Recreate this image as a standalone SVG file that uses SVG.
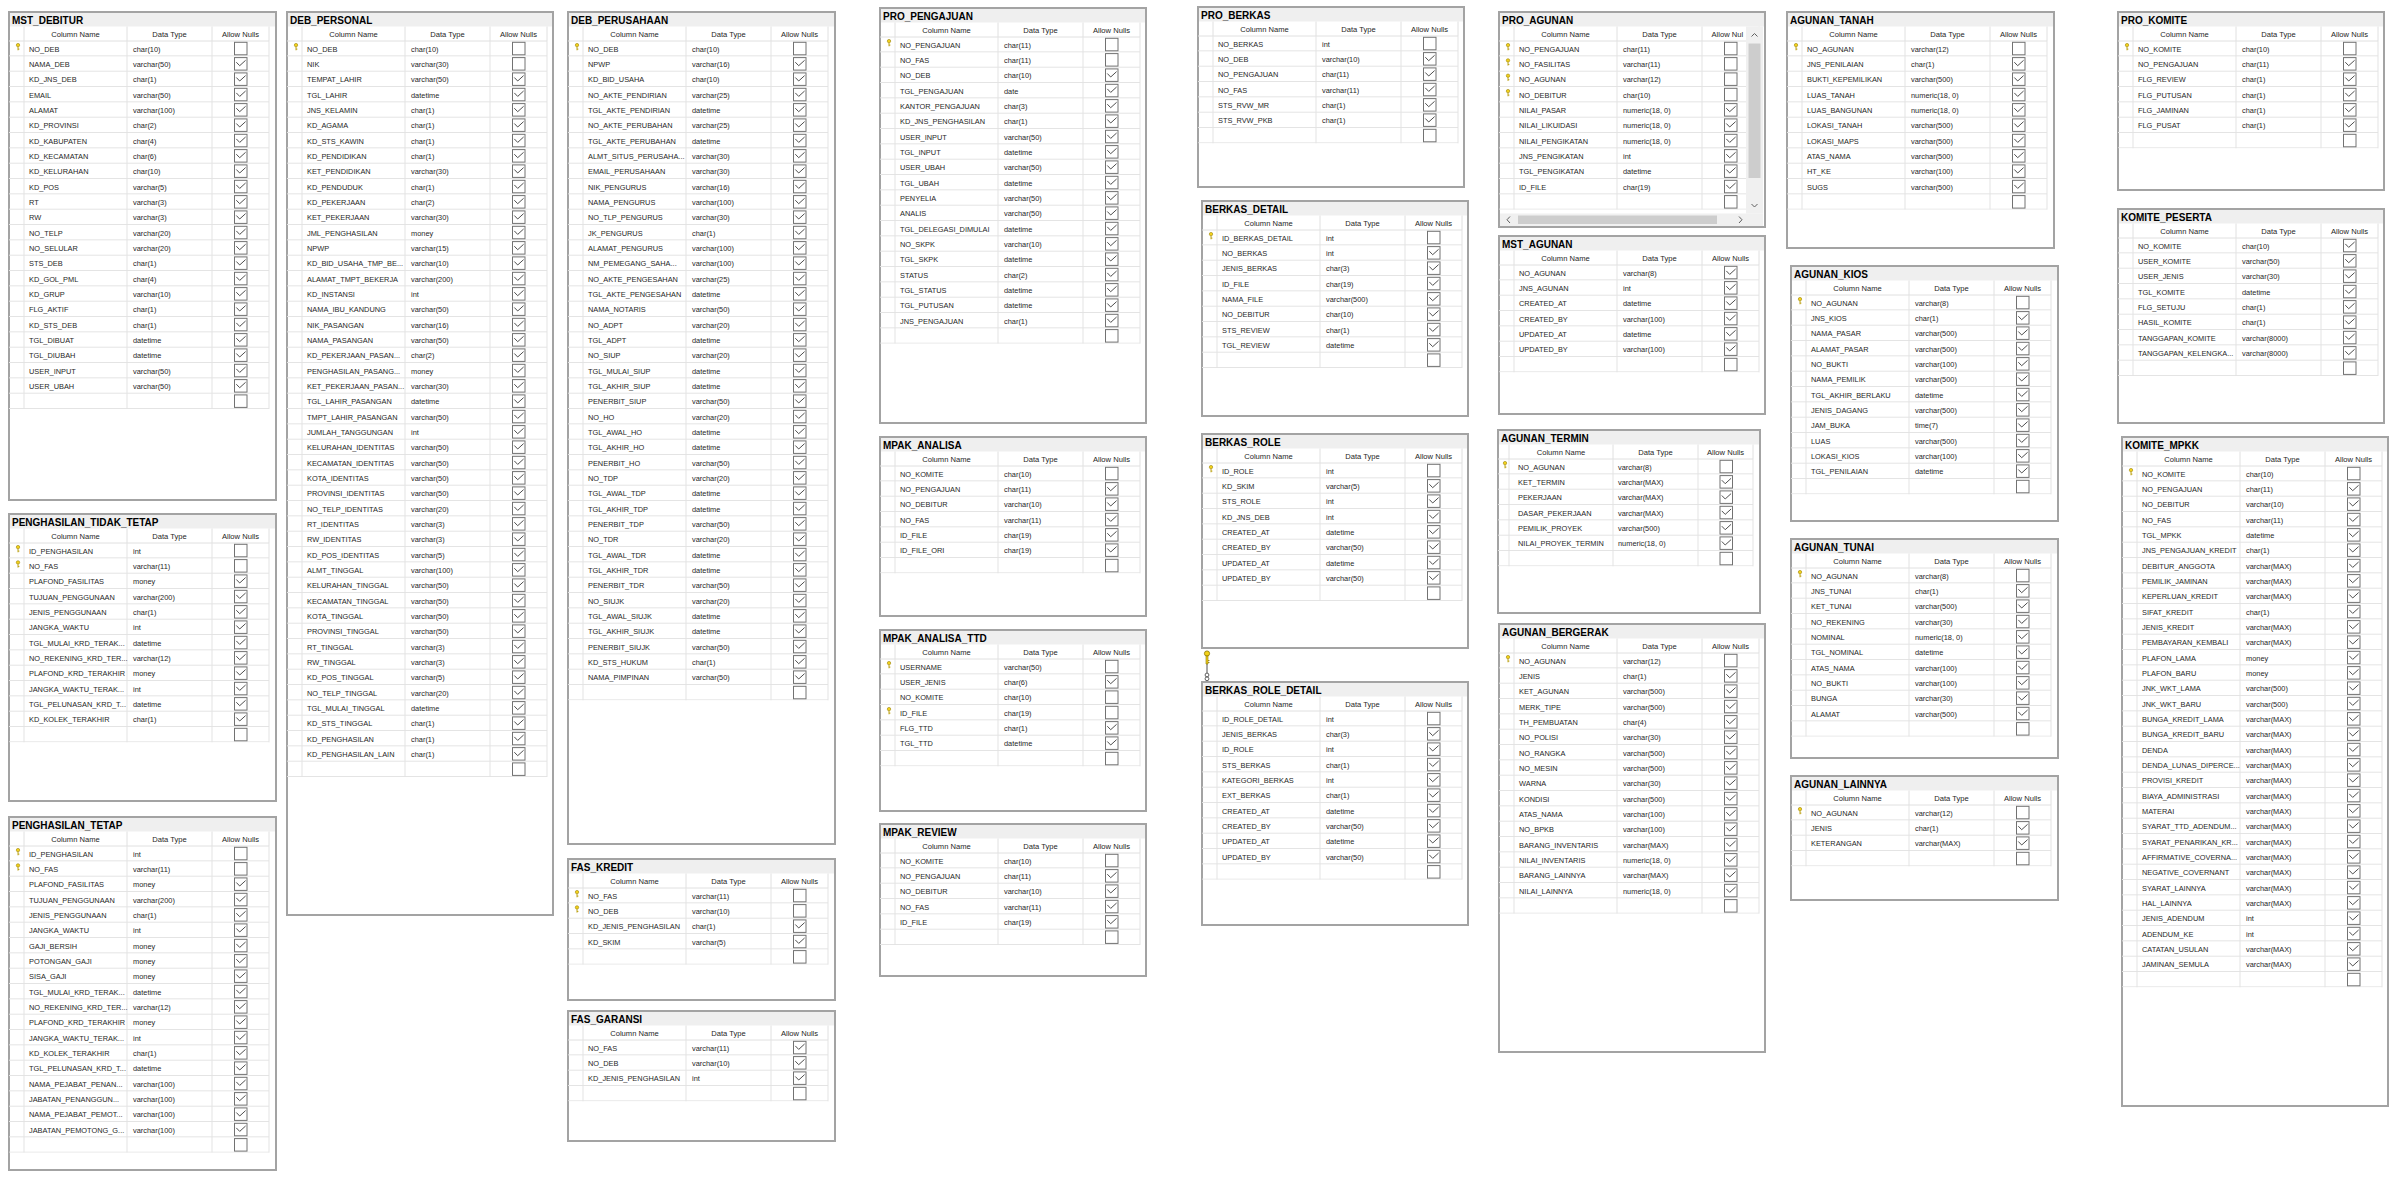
<svg xmlns="http://www.w3.org/2000/svg" xmlns:xlink="http://www.w3.org/1999/xlink" width="2400" height="1182" viewBox="0 0 2400 1182">
<style>
.box{fill:#fff;stroke:#a3a3a3;stroke-width:2}
.bar{fill:#efefef}
.ti{font-family:"Liberation Sans",Arial,sans-serif;font-weight:bold;font-size:10px;fill:#000}
.h{font-family:"Liberation Sans",Arial,sans-serif;font-size:7.6px;fill:#262626;text-anchor:middle}
.hl{font-family:"Liberation Sans",Arial,sans-serif;font-size:7.6px;fill:#262626}
.t{font-family:"Liberation Sans",Arial,sans-serif;font-size:7.4px;fill:#1f1f1f}
.gl{stroke:#e0e0e0;stroke-width:1;fill:none}
.sb{fill:#f0f0f0}
.th{fill:#cdcdcd}
.ar{fill:none;stroke:#606060;stroke-width:1}
</style>
<defs>
  <!-- header row (column captions + separators), local to a table -->
  <g id="hdr0">
    <path class="gl" d="M15 14.5V29M118 14.5V29M203 14.5V29M260 14.5V29M0 29H260"/>
    <text class="h" x="66.5" y="25">Column Name</text>
    <text class="h" x="160.5" y="25">Data Type</text>
  </g>
  <g id="hdr"><use href="#hdr0"/><text class="h" x="231.5" y="25">Allow Nulls</text></g>
  <g id="hdr2">
    <path class="gl" d="M11 14.5V29M115 14.5V29M200 14.5V29M255 14.5V29M0 29H255"/>
    <text class="h" x="63" y="25">Column Name</text>
    <text class="h" x="157.5" y="25">Data Type</text>
    <text class="h" x="227.5" y="25">Allow Nulls</text>
  </g>
  <!-- row grid -->
  <pattern id="gp" patternUnits="userSpaceOnUse" x="0" y="29" width="300" height="15.3333">
    <path d="M15 0V15.3333M118 0V15.3333M203 0V15.3333M260 0V15.3333M0 14.83H260" stroke="#e3e3e3" stroke-width="1" fill="none"/>
  </pattern>
  <pattern id="gp2" patternUnits="userSpaceOnUse" x="0" y="29" width="300" height="15.3333">
    <path d="M11 0V15.3333M115 0V15.3333M200 0V15.3333M255 0V15.3333M0 14.83H255" stroke="#e3e3e3" stroke-width="1" fill="none"/>
  </pattern>
  <!-- Allow Nulls check boxes, positioned on the row baseline -->
  <g id="u"><rect x="225.5" y="-9.4" width="12.5" height="12.5" fill="#fff" stroke="#727272" stroke-width="1"/></g>
  <g id="c"><use href="#u"/><path d="M227.3 -4.8L230.7 -1.3L236.6 -6.7" fill="none" stroke="#505050" stroke-width="1"/></g>
  <!-- primary key marker -->
  <g id="k"><circle cx="9" cy="-6.6" r="1.7" fill="#f3d11a" stroke="#9c8300" stroke-width=".6"/><path d="M9 -4.9V-1.4M9 -2.6H10.4" stroke="#b59a00" stroke-width=".9"/></g>
</defs>
<rect width="2400" height="1182" fill="#fff"/>

<!-- MST_DEBITUR -->
<g id="t-mst-debitur" transform="translate(9,12)">
<rect class="box" width="267" height="488"/><rect class="bar" x="1" y="1" width="265" height="13.5"/>
<text class="ti" x="3" y="12">MST_DEBITUR</text><use href="#hdr"/>
<rect x="0" y="29" width="261" height="368" fill="url(#gp)"/>
<text class="t" y="39.7"><tspan x="20">NO_DEB</tspan><tspan x="124">char(10)</tspan></text><use href="#u" y="39.7"/><use href="#k" y="39.7"/>
<text class="t" y="55"><tspan x="20">NAMA_DEB</tspan><tspan x="124">varchar(50)</tspan></text><use href="#c" y="55"/>
<text class="t" y="70.3"><tspan x="20">KD_JNS_DEB</tspan><tspan x="124">char(1)</tspan></text><use href="#c" y="70.3"/>
<text class="t" y="85.7"><tspan x="20">EMAIL</tspan><tspan x="124">varchar(50)</tspan></text><use href="#c" y="85.7"/>
<text class="t" y="101"><tspan x="20">ALAMAT</tspan><tspan x="124">varchar(100)</tspan></text><use href="#c" y="101"/>
<text class="t" y="116.3"><tspan x="20">KD_PROVINSI</tspan><tspan x="124">char(2)</tspan></text><use href="#c" y="116.3"/>
<text class="t" y="131.7"><tspan x="20">KD_KABUPATEN</tspan><tspan x="124">char(4)</tspan></text><use href="#c" y="131.7"/>
<text class="t" y="147"><tspan x="20">KD_KECAMATAN</tspan><tspan x="124">char(6)</tspan></text><use href="#c" y="147"/>
<text class="t" y="162.3"><tspan x="20">KD_KELURAHAN</tspan><tspan x="124">char(10)</tspan></text><use href="#c" y="162.3"/>
<text class="t" y="177.7"><tspan x="20">KD_POS</tspan><tspan x="124">varchar(5)</tspan></text><use href="#c" y="177.7"/>
<text class="t" y="193"><tspan x="20">RT</tspan><tspan x="124">varchar(3)</tspan></text><use href="#c" y="193"/>
<text class="t" y="208.3"><tspan x="20">RW</tspan><tspan x="124">varchar(3)</tspan></text><use href="#c" y="208.3"/>
<text class="t" y="223.7"><tspan x="20">NO_TELP</tspan><tspan x="124">varchar(20)</tspan></text><use href="#c" y="223.7"/>
<text class="t" y="239"><tspan x="20">NO_SELULAR</tspan><tspan x="124">varchar(20)</tspan></text><use href="#c" y="239"/>
<text class="t" y="254.3"><tspan x="20">STS_DEB</tspan><tspan x="124">char(1)</tspan></text><use href="#c" y="254.3"/>
<text class="t" y="269.7"><tspan x="20">KD_GOL_PML</tspan><tspan x="124">char(4)</tspan></text><use href="#c" y="269.7"/>
<text class="t" y="285"><tspan x="20">KD_GRUP</tspan><tspan x="124">varchar(10)</tspan></text><use href="#c" y="285"/>
<text class="t" y="300.3"><tspan x="20">FLG_AKTIF</tspan><tspan x="124">char(1)</tspan></text><use href="#c" y="300.3"/>
<text class="t" y="315.7"><tspan x="20">KD_STS_DEB</tspan><tspan x="124">char(1)</tspan></text><use href="#c" y="315.7"/>
<text class="t" y="331"><tspan x="20">TGL_DIBUAT</tspan><tspan x="124">datetime</tspan></text><use href="#c" y="331"/>
<text class="t" y="346.3"><tspan x="20">TGL_DIUBAH</tspan><tspan x="124">datetime</tspan></text><use href="#c" y="346.3"/>
<text class="t" y="361.7"><tspan x="20">USER_INPUT</tspan><tspan x="124">varchar(50)</tspan></text><use href="#c" y="361.7"/>
<text class="t" y="377"><tspan x="20">USER_UBAH</tspan><tspan x="124">varchar(50)</tspan></text><use href="#c" y="377"/>
<use href="#u" y="392.3"/>
</g>

<!-- PENGHASILAN_TIDAK_TETAP -->
<g id="t-penghasilan-tidak-tetap" transform="translate(9,514)">
<rect class="box" width="267" height="287"/><rect class="bar" x="1" y="1" width="265" height="13.5"/>
<text class="ti" x="3" y="12">PENGHASILAN_TIDAK_TETAP</text><use href="#hdr"/>
<rect x="0" y="29" width="261" height="199.33" fill="url(#gp)"/>
<text class="t" y="39.7"><tspan x="20">ID_PENGHASILAN</tspan><tspan x="124">int</tspan></text><use href="#u" y="39.7"/><use href="#k" y="39.7"/>
<text class="t" y="55"><tspan x="20">NO_FAS</tspan><tspan x="124">varchar(11)</tspan></text><use href="#u" y="55"/><use href="#k" y="55"/>
<text class="t" y="70.3"><tspan x="20">PLAFOND_FASILITAS</tspan><tspan x="124">money</tspan></text><use href="#c" y="70.3"/>
<text class="t" y="85.7"><tspan x="20">TUJUAN_PENGGUNAAN</tspan><tspan x="124">varchar(200)</tspan></text><use href="#c" y="85.7"/>
<text class="t" y="101"><tspan x="20">JENIS_PENGGUNAAN</tspan><tspan x="124">char(1)</tspan></text><use href="#c" y="101"/>
<text class="t" y="116.3"><tspan x="20">JANGKA_WAKTU</tspan><tspan x="124">int</tspan></text><use href="#c" y="116.3"/>
<text class="t" y="131.7"><tspan x="20">TGL_MULAI_KRD_TERAK...</tspan><tspan x="124">datetime</tspan></text><use href="#c" y="131.7"/>
<text class="t" y="147"><tspan x="20">NO_REKENING_KRD_TER...</tspan><tspan x="124">varchar(12)</tspan></text><use href="#c" y="147"/>
<text class="t" y="162.3"><tspan x="20">PLAFOND_KRD_TERAKHIR</tspan><tspan x="124">money</tspan></text><use href="#c" y="162.3"/>
<text class="t" y="177.7"><tspan x="20">JANGKA_WAKTU_TERAK...</tspan><tspan x="124">int</tspan></text><use href="#c" y="177.7"/>
<text class="t" y="193"><tspan x="20">TGL_PELUNASAN_KRD_T...</tspan><tspan x="124">datetime</tspan></text><use href="#c" y="193"/>
<text class="t" y="208.3"><tspan x="20">KD_KOLEK_TERAKHIR</tspan><tspan x="124">char(1)</tspan></text><use href="#c" y="208.3"/>
<use href="#u" y="223.7"/>
</g>

<!-- PENGHASILAN_TETAP -->
<g id="t-penghasilan-tetap" transform="translate(9,817)">
<rect class="box" width="267" height="353"/><rect class="bar" x="1" y="1" width="265" height="13.5"/>
<text class="ti" x="3" y="12">PENGHASILAN_TETAP</text><use href="#hdr"/>
<rect x="0" y="29" width="261" height="306.67" fill="url(#gp)"/>
<text class="t" y="39.7"><tspan x="20">ID_PENGHASILAN</tspan><tspan x="124">int</tspan></text><use href="#u" y="39.7"/><use href="#k" y="39.7"/>
<text class="t" y="55"><tspan x="20">NO_FAS</tspan><tspan x="124">varchar(11)</tspan></text><use href="#u" y="55"/><use href="#k" y="55"/>
<text class="t" y="70.3"><tspan x="20">PLAFOND_FASILITAS</tspan><tspan x="124">money</tspan></text><use href="#c" y="70.3"/>
<text class="t" y="85.7"><tspan x="20">TUJUAN_PENGGUNAAN</tspan><tspan x="124">varchar(200)</tspan></text><use href="#c" y="85.7"/>
<text class="t" y="101"><tspan x="20">JENIS_PENGGUNAAN</tspan><tspan x="124">char(1)</tspan></text><use href="#c" y="101"/>
<text class="t" y="116.3"><tspan x="20">JANGKA_WAKTU</tspan><tspan x="124">int</tspan></text><use href="#c" y="116.3"/>
<text class="t" y="131.7"><tspan x="20">GAJI_BERSIH</tspan><tspan x="124">money</tspan></text><use href="#c" y="131.7"/>
<text class="t" y="147"><tspan x="20">POTONGAN_GAJI</tspan><tspan x="124">money</tspan></text><use href="#c" y="147"/>
<text class="t" y="162.3"><tspan x="20">SISA_GAJI</tspan><tspan x="124">money</tspan></text><use href="#c" y="162.3"/>
<text class="t" y="177.7"><tspan x="20">TGL_MULAI_KRD_TERAK...</tspan><tspan x="124">datetime</tspan></text><use href="#c" y="177.7"/>
<text class="t" y="193"><tspan x="20">NO_REKENING_KRD_TER...</tspan><tspan x="124">varchar(12)</tspan></text><use href="#c" y="193"/>
<text class="t" y="208.3"><tspan x="20">PLAFOND_KRD_TERAKHIR</tspan><tspan x="124">money</tspan></text><use href="#c" y="208.3"/>
<text class="t" y="223.7"><tspan x="20">JANGKA_WAKTU_TERAK...</tspan><tspan x="124">int</tspan></text><use href="#c" y="223.7"/>
<text class="t" y="239"><tspan x="20">KD_KOLEK_TERAKHIR</tspan><tspan x="124">char(1)</tspan></text><use href="#c" y="239"/>
<text class="t" y="254.3"><tspan x="20">TGL_PELUNASAN_KRD_T...</tspan><tspan x="124">datetime</tspan></text><use href="#c" y="254.3"/>
<text class="t" y="269.7"><tspan x="20">NAMA_PEJABAT_PENAN...</tspan><tspan x="124">varchar(100)</tspan></text><use href="#c" y="269.7"/>
<text class="t" y="285"><tspan x="20">JABATAN_PENANGGUN...</tspan><tspan x="124">varchar(100)</tspan></text><use href="#c" y="285"/>
<text class="t" y="300.3"><tspan x="20">NAMA_PEJABAT_PEMOT...</tspan><tspan x="124">varchar(100)</tspan></text><use href="#c" y="300.3"/>
<text class="t" y="315.7"><tspan x="20">JABATAN_PEMOTONG_G...</tspan><tspan x="124">varchar(100)</tspan></text><use href="#c" y="315.7"/>
<use href="#u" y="331"/>
</g>

<!-- DEB_PERSONAL -->
<g id="t-deb-personal" transform="translate(287,12)">
<rect class="box" width="266" height="903"/><rect class="bar" x="1" y="1" width="264" height="13.5"/>
<text class="ti" x="3" y="12">DEB_PERSONAL</text><use href="#hdr"/>
<rect x="0" y="29" width="261" height="736" fill="url(#gp)"/>
<text class="t" y="39.7"><tspan x="20">NO_DEB</tspan><tspan x="124">char(10)</tspan></text><use href="#u" y="39.7"/><use href="#k" y="39.7"/>
<text class="t" y="55"><tspan x="20">NIK</tspan><tspan x="124">varchar(30)</tspan></text><use href="#u" y="55"/>
<text class="t" y="70.3"><tspan x="20">TEMPAT_LAHIR</tspan><tspan x="124">varchar(50)</tspan></text><use href="#c" y="70.3"/>
<text class="t" y="85.7"><tspan x="20">TGL_LAHIR</tspan><tspan x="124">datetime</tspan></text><use href="#c" y="85.7"/>
<text class="t" y="101"><tspan x="20">JNS_KELAMIN</tspan><tspan x="124">char(1)</tspan></text><use href="#c" y="101"/>
<text class="t" y="116.3"><tspan x="20">KD_AGAMA</tspan><tspan x="124">char(1)</tspan></text><use href="#c" y="116.3"/>
<text class="t" y="131.7"><tspan x="20">KD_STS_KAWIN</tspan><tspan x="124">char(1)</tspan></text><use href="#c" y="131.7"/>
<text class="t" y="147"><tspan x="20">KD_PENDIDIKAN</tspan><tspan x="124">char(1)</tspan></text><use href="#c" y="147"/>
<text class="t" y="162.3"><tspan x="20">KET_PENDIDIKAN</tspan><tspan x="124">varchar(30)</tspan></text><use href="#c" y="162.3"/>
<text class="t" y="177.7"><tspan x="20">KD_PENDUDUK</tspan><tspan x="124">char(1)</tspan></text><use href="#c" y="177.7"/>
<text class="t" y="193"><tspan x="20">KD_PEKERJAAN</tspan><tspan x="124">char(2)</tspan></text><use href="#c" y="193"/>
<text class="t" y="208.3"><tspan x="20">KET_PEKERJAAN</tspan><tspan x="124">varchar(30)</tspan></text><use href="#c" y="208.3"/>
<text class="t" y="223.7"><tspan x="20">JML_PENGHASILAN</tspan><tspan x="124">money</tspan></text><use href="#c" y="223.7"/>
<text class="t" y="239"><tspan x="20">NPWP</tspan><tspan x="124">varchar(15)</tspan></text><use href="#c" y="239"/>
<text class="t" y="254.3"><tspan x="20">KD_BID_USAHA_TMP_BE...</tspan><tspan x="124">varchar(10)</tspan></text><use href="#c" y="254.3"/>
<text class="t" y="269.7"><tspan x="20">ALAMAT_TMPT_BEKERJA</tspan><tspan x="124">varchar(200)</tspan></text><use href="#c" y="269.7"/>
<text class="t" y="285"><tspan x="20">KD_INSTANSI</tspan><tspan x="124">int</tspan></text><use href="#c" y="285"/>
<text class="t" y="300.3"><tspan x="20">NAMA_IBU_KANDUNG</tspan><tspan x="124">varchar(50)</tspan></text><use href="#c" y="300.3"/>
<text class="t" y="315.7"><tspan x="20">NIK_PASANGAN</tspan><tspan x="124">varchar(16)</tspan></text><use href="#c" y="315.7"/>
<text class="t" y="331"><tspan x="20">NAMA_PASANGAN</tspan><tspan x="124">varchar(50)</tspan></text><use href="#c" y="331"/>
<text class="t" y="346.3"><tspan x="20">KD_PEKERJAAN_PASAN...</tspan><tspan x="124">char(2)</tspan></text><use href="#c" y="346.3"/>
<text class="t" y="361.7"><tspan x="20">PENGHASILAN_PASANG...</tspan><tspan x="124">money</tspan></text><use href="#c" y="361.7"/>
<text class="t" y="377"><tspan x="20">KET_PEKERJAAN_PASAN...</tspan><tspan x="124">varchar(30)</tspan></text><use href="#c" y="377"/>
<text class="t" y="392.3"><tspan x="20">TGL_LAHIR_PASANGAN</tspan><tspan x="124">datetime</tspan></text><use href="#c" y="392.3"/>
<text class="t" y="407.7"><tspan x="20">TMPT_LAHIR_PASANGAN</tspan><tspan x="124">varchar(50)</tspan></text><use href="#c" y="407.7"/>
<text class="t" y="423"><tspan x="20">JUMLAH_TANGGUNGAN</tspan><tspan x="124">int</tspan></text><use href="#c" y="423"/>
<text class="t" y="438.3"><tspan x="20">KELURAHAN_IDENTITAS</tspan><tspan x="124">varchar(50)</tspan></text><use href="#c" y="438.3"/>
<text class="t" y="453.7"><tspan x="20">KECAMATAN_IDENTITAS</tspan><tspan x="124">varchar(50)</tspan></text><use href="#c" y="453.7"/>
<text class="t" y="469"><tspan x="20">KOTA_IDENTITAS</tspan><tspan x="124">varchar(50)</tspan></text><use href="#c" y="469"/>
<text class="t" y="484.3"><tspan x="20">PROVINSI_IDENTITAS</tspan><tspan x="124">varchar(50)</tspan></text><use href="#c" y="484.3"/>
<text class="t" y="499.7"><tspan x="20">NO_TELP_IDENTITAS</tspan><tspan x="124">varchar(20)</tspan></text><use href="#c" y="499.7"/>
<text class="t" y="515"><tspan x="20">RT_IDENTITAS</tspan><tspan x="124">varchar(3)</tspan></text><use href="#c" y="515"/>
<text class="t" y="530.3"><tspan x="20">RW_IDENTITAS</tspan><tspan x="124">varchar(3)</tspan></text><use href="#c" y="530.3"/>
<text class="t" y="545.7"><tspan x="20">KD_POS_IDENTITAS</tspan><tspan x="124">varchar(5)</tspan></text><use href="#c" y="545.7"/>
<text class="t" y="561"><tspan x="20">ALMT_TINGGAL</tspan><tspan x="124">varchar(100)</tspan></text><use href="#c" y="561"/>
<text class="t" y="576.3"><tspan x="20">KELURAHAN_TINGGAL</tspan><tspan x="124">varchar(50)</tspan></text><use href="#c" y="576.3"/>
<text class="t" y="591.7"><tspan x="20">KECAMATAN_TINGGAL</tspan><tspan x="124">varchar(50)</tspan></text><use href="#c" y="591.7"/>
<text class="t" y="607"><tspan x="20">KOTA_TINGGAL</tspan><tspan x="124">varchar(50)</tspan></text><use href="#c" y="607"/>
<text class="t" y="622.3"><tspan x="20">PROVINSI_TINGGAL</tspan><tspan x="124">varchar(50)</tspan></text><use href="#c" y="622.3"/>
<text class="t" y="637.7"><tspan x="20">RT_TINGGAL</tspan><tspan x="124">varchar(3)</tspan></text><use href="#c" y="637.7"/>
<text class="t" y="653"><tspan x="20">RW_TINGGAL</tspan><tspan x="124">varchar(3)</tspan></text><use href="#c" y="653"/>
<text class="t" y="668.3"><tspan x="20">KD_POS_TINGGAL</tspan><tspan x="124">varchar(5)</tspan></text><use href="#c" y="668.3"/>
<text class="t" y="683.7"><tspan x="20">NO_TELP_TINGGAL</tspan><tspan x="124">varchar(20)</tspan></text><use href="#c" y="683.7"/>
<text class="t" y="699"><tspan x="20">TGL_MULAI_TINGGAL</tspan><tspan x="124">datetime</tspan></text><use href="#c" y="699"/>
<text class="t" y="714.3"><tspan x="20">KD_STS_TINGGAL</tspan><tspan x="124">char(1)</tspan></text><use href="#c" y="714.3"/>
<text class="t" y="729.7"><tspan x="20">KD_PENGHASILAN</tspan><tspan x="124">char(1)</tspan></text><use href="#c" y="729.7"/>
<text class="t" y="745"><tspan x="20">KD_PENGHASILAN_LAIN</tspan><tspan x="124">char(1)</tspan></text><use href="#c" y="745"/>
<use href="#u" y="760.3"/>
</g>

<!-- DEB_PERUSAHAAN -->
<g id="t-deb-perusahaan" transform="translate(568,12)">
<rect class="box" width="267" height="832"/><rect class="bar" x="1" y="1" width="265" height="13.5"/>
<text class="ti" x="3" y="12">DEB_PERUSAHAAN</text><use href="#hdr"/>
<rect x="0" y="29" width="261" height="659.33" fill="url(#gp)"/>
<text class="t" y="39.7"><tspan x="20">NO_DEB</tspan><tspan x="124">char(10)</tspan></text><use href="#u" y="39.7"/><use href="#k" y="39.7"/>
<text class="t" y="55"><tspan x="20">NPWP</tspan><tspan x="124">varchar(16)</tspan></text><use href="#c" y="55"/>
<text class="t" y="70.3"><tspan x="20">KD_BID_USAHA</tspan><tspan x="124">char(10)</tspan></text><use href="#c" y="70.3"/>
<text class="t" y="85.7"><tspan x="20">NO_AKTE_PENDIRIAN</tspan><tspan x="124">varchar(25)</tspan></text><use href="#c" y="85.7"/>
<text class="t" y="101"><tspan x="20">TGL_AKTE_PENDIRIAN</tspan><tspan x="124">datetime</tspan></text><use href="#c" y="101"/>
<text class="t" y="116.3"><tspan x="20">NO_AKTE_PERUBAHAN</tspan><tspan x="124">varchar(25)</tspan></text><use href="#c" y="116.3"/>
<text class="t" y="131.7"><tspan x="20">TGL_AKTE_PERUBAHAN</tspan><tspan x="124">datetime</tspan></text><use href="#c" y="131.7"/>
<text class="t" y="147"><tspan x="20">ALMT_SITUS_PERUSAHA...</tspan><tspan x="124">varchar(30)</tspan></text><use href="#c" y="147"/>
<text class="t" y="162.3"><tspan x="20">EMAIL_PERUSAHAAN</tspan><tspan x="124">varchar(30)</tspan></text><use href="#c" y="162.3"/>
<text class="t" y="177.7"><tspan x="20">NIK_PENGURUS</tspan><tspan x="124">varchar(16)</tspan></text><use href="#c" y="177.7"/>
<text class="t" y="193"><tspan x="20">NAMA_PENGURUS</tspan><tspan x="124">varchar(100)</tspan></text><use href="#c" y="193"/>
<text class="t" y="208.3"><tspan x="20">NO_TLP_PENGURUS</tspan><tspan x="124">varchar(30)</tspan></text><use href="#c" y="208.3"/>
<text class="t" y="223.7"><tspan x="20">JK_PENGURUS</tspan><tspan x="124">char(1)</tspan></text><use href="#c" y="223.7"/>
<text class="t" y="239"><tspan x="20">ALAMAT_PENGURUS</tspan><tspan x="124">varchar(100)</tspan></text><use href="#c" y="239"/>
<text class="t" y="254.3"><tspan x="20">NM_PEMEGANG_SAHA...</tspan><tspan x="124">varchar(100)</tspan></text><use href="#c" y="254.3"/>
<text class="t" y="269.7"><tspan x="20">NO_AKTE_PENGESAHAN</tspan><tspan x="124">varchar(25)</tspan></text><use href="#c" y="269.7"/>
<text class="t" y="285"><tspan x="20">TGL_AKTE_PENGESAHAN</tspan><tspan x="124">datetime</tspan></text><use href="#c" y="285"/>
<text class="t" y="300.3"><tspan x="20">NAMA_NOTARIS</tspan><tspan x="124">varchar(50)</tspan></text><use href="#c" y="300.3"/>
<text class="t" y="315.7"><tspan x="20">NO_ADPT</tspan><tspan x="124">varchar(20)</tspan></text><use href="#c" y="315.7"/>
<text class="t" y="331"><tspan x="20">TGL_ADPT</tspan><tspan x="124">datetime</tspan></text><use href="#c" y="331"/>
<text class="t" y="346.3"><tspan x="20">NO_SIUP</tspan><tspan x="124">varchar(20)</tspan></text><use href="#c" y="346.3"/>
<text class="t" y="361.7"><tspan x="20">TGL_MULAI_SIUP</tspan><tspan x="124">datetime</tspan></text><use href="#c" y="361.7"/>
<text class="t" y="377"><tspan x="20">TGL_AKHIR_SIUP</tspan><tspan x="124">datetime</tspan></text><use href="#c" y="377"/>
<text class="t" y="392.3"><tspan x="20">PENERBIT_SIUP</tspan><tspan x="124">varchar(50)</tspan></text><use href="#c" y="392.3"/>
<text class="t" y="407.7"><tspan x="20">NO_HO</tspan><tspan x="124">varchar(20)</tspan></text><use href="#c" y="407.7"/>
<text class="t" y="423"><tspan x="20">TGL_AWAL_HO</tspan><tspan x="124">datetime</tspan></text><use href="#c" y="423"/>
<text class="t" y="438.3"><tspan x="20">TGL_AKHIR_HO</tspan><tspan x="124">datetime</tspan></text><use href="#c" y="438.3"/>
<text class="t" y="453.7"><tspan x="20">PENERBIT_HO</tspan><tspan x="124">varchar(50)</tspan></text><use href="#c" y="453.7"/>
<text class="t" y="469"><tspan x="20">NO_TDP</tspan><tspan x="124">varchar(20)</tspan></text><use href="#c" y="469"/>
<text class="t" y="484.3"><tspan x="20">TGL_AWAL_TDP</tspan><tspan x="124">datetime</tspan></text><use href="#c" y="484.3"/>
<text class="t" y="499.7"><tspan x="20">TGL_AKHIR_TDP</tspan><tspan x="124">datetime</tspan></text><use href="#c" y="499.7"/>
<text class="t" y="515"><tspan x="20">PENERBIT_TDP</tspan><tspan x="124">varchar(50)</tspan></text><use href="#c" y="515"/>
<text class="t" y="530.3"><tspan x="20">NO_TDR</tspan><tspan x="124">varchar(20)</tspan></text><use href="#c" y="530.3"/>
<text class="t" y="545.7"><tspan x="20">TGL_AWAL_TDR</tspan><tspan x="124">datetime</tspan></text><use href="#c" y="545.7"/>
<text class="t" y="561"><tspan x="20">TGL_AKHIR_TDR</tspan><tspan x="124">datetime</tspan></text><use href="#c" y="561"/>
<text class="t" y="576.3"><tspan x="20">PENERBIT_TDR</tspan><tspan x="124">varchar(50)</tspan></text><use href="#c" y="576.3"/>
<text class="t" y="591.7"><tspan x="20">NO_SIUJK</tspan><tspan x="124">varchar(20)</tspan></text><use href="#c" y="591.7"/>
<text class="t" y="607"><tspan x="20">TGL_AWAL_SIUJK</tspan><tspan x="124">datetime</tspan></text><use href="#c" y="607"/>
<text class="t" y="622.3"><tspan x="20">TGL_AKHIR_SIUJK</tspan><tspan x="124">datetime</tspan></text><use href="#c" y="622.3"/>
<text class="t" y="637.7"><tspan x="20">PENERBIT_SIUJK</tspan><tspan x="124">varchar(50)</tspan></text><use href="#c" y="637.7"/>
<text class="t" y="653"><tspan x="20">KD_STS_HUKUM</tspan><tspan x="124">char(1)</tspan></text><use href="#c" y="653"/>
<text class="t" y="668.3"><tspan x="20">NAMA_PIMPINAN</tspan><tspan x="124">varchar(50)</tspan></text><use href="#c" y="668.3"/>
<use href="#u" y="683.7"/>
</g>

<!-- FAS_KREDIT -->
<g id="t-fas-kredit" transform="translate(568,859)">
<rect class="box" width="267" height="141"/><rect class="bar" x="1" y="1" width="265" height="13.5"/>
<text class="ti" x="3" y="12">FAS_KREDIT</text><use href="#hdr"/>
<rect x="0" y="29" width="261" height="76.67" fill="url(#gp)"/>
<text class="t" y="39.7"><tspan x="20">NO_FAS</tspan><tspan x="124">varchar(11)</tspan></text><use href="#u" y="39.7"/><use href="#k" y="39.7"/>
<text class="t" y="55"><tspan x="20">NO_DEB</tspan><tspan x="124">varchar(10)</tspan></text><use href="#u" y="55"/><use href="#k" y="55"/>
<text class="t" y="70.3"><tspan x="20">KD_JENIS_PENGHASILAN</tspan><tspan x="124">char(1)</tspan></text><use href="#c" y="70.3"/>
<text class="t" y="85.7"><tspan x="20">KD_SKIM</tspan><tspan x="124">varchar(5)</tspan></text><use href="#c" y="85.7"/>
<use href="#u" y="101"/>
</g>

<!-- FAS_GARANSI -->
<g id="t-fas-garansi" transform="translate(568,1011)">
<rect class="box" width="267" height="130"/><rect class="bar" x="1" y="1" width="265" height="13.5"/>
<text class="ti" x="3" y="12">FAS_GARANSI</text><use href="#hdr"/>
<rect x="0" y="29" width="261" height="61.33" fill="url(#gp)"/>
<text class="t" y="39.7"><tspan x="20">NO_FAS</tspan><tspan x="124">varchar(11)</tspan></text><use href="#c" y="39.7"/>
<text class="t" y="55"><tspan x="20">NO_DEB</tspan><tspan x="124">varchar(10)</tspan></text><use href="#c" y="55"/>
<text class="t" y="70.3"><tspan x="20">KD_JENIS_PENGHASILAN</tspan><tspan x="124">int</tspan></text><use href="#c" y="70.3"/>
<use href="#u" y="85.7"/>
</g>

<!-- PRO_PENGAJUAN -->
<g id="t-pro-pengajuan" transform="translate(880,8)">
<rect class="box" width="266" height="415"/><rect class="bar" x="1" y="1" width="264" height="13.5"/>
<text class="ti" x="3" y="12">PRO_PENGAJUAN</text><use href="#hdr"/>
<rect x="0" y="29" width="261" height="306.67" fill="url(#gp)"/>
<text class="t" y="39.7"><tspan x="20">NO_PENGAJUAN</tspan><tspan x="124">char(11)</tspan></text><use href="#u" y="39.7"/><use href="#k" y="39.7"/>
<text class="t" y="55"><tspan x="20">NO_FAS</tspan><tspan x="124">char(11)</tspan></text><use href="#u" y="55"/>
<text class="t" y="70.3"><tspan x="20">NO_DEB</tspan><tspan x="124">char(10)</tspan></text><use href="#c" y="70.3"/>
<text class="t" y="85.7"><tspan x="20">TGL_PENGAJUAN</tspan><tspan x="124">date</tspan></text><use href="#c" y="85.7"/>
<text class="t" y="101"><tspan x="20">KANTOR_PENGAJUAN</tspan><tspan x="124">char(3)</tspan></text><use href="#c" y="101"/>
<text class="t" y="116.3"><tspan x="20">KD_JNS_PENGHASILAN</tspan><tspan x="124">char(1)</tspan></text><use href="#c" y="116.3"/>
<text class="t" y="131.7"><tspan x="20">USER_INPUT</tspan><tspan x="124">varchar(50)</tspan></text><use href="#c" y="131.7"/>
<text class="t" y="147"><tspan x="20">TGL_INPUT</tspan><tspan x="124">datetime</tspan></text><use href="#c" y="147"/>
<text class="t" y="162.3"><tspan x="20">USER_UBAH</tspan><tspan x="124">varchar(50)</tspan></text><use href="#c" y="162.3"/>
<text class="t" y="177.7"><tspan x="20">TGL_UBAH</tspan><tspan x="124">datetime</tspan></text><use href="#c" y="177.7"/>
<text class="t" y="193"><tspan x="20">PENYELIA</tspan><tspan x="124">varchar(50)</tspan></text><use href="#c" y="193"/>
<text class="t" y="208.3"><tspan x="20">ANALIS</tspan><tspan x="124">varchar(50)</tspan></text><use href="#c" y="208.3"/>
<text class="t" y="223.7"><tspan x="20">TGL_DELEGASI_DIMULAI</tspan><tspan x="124">datetime</tspan></text><use href="#c" y="223.7"/>
<text class="t" y="239"><tspan x="20">NO_SKPK</tspan><tspan x="124">varchar(10)</tspan></text><use href="#c" y="239"/>
<text class="t" y="254.3"><tspan x="20">TGL_SKPK</tspan><tspan x="124">datetime</tspan></text><use href="#c" y="254.3"/>
<text class="t" y="269.7"><tspan x="20">STATUS</tspan><tspan x="124">char(2)</tspan></text><use href="#c" y="269.7"/>
<text class="t" y="285"><tspan x="20">TGL_STATUS</tspan><tspan x="124">datetime</tspan></text><use href="#c" y="285"/>
<text class="t" y="300.3"><tspan x="20">TGL_PUTUSAN</tspan><tspan x="124">datetime</tspan></text><use href="#c" y="300.3"/>
<text class="t" y="315.7"><tspan x="20">JNS_PENGAJUAN</tspan><tspan x="124">char(1)</tspan></text><use href="#c" y="315.7"/>
<use href="#u" y="331"/>
</g>

<!-- MPAK_ANALISA -->
<g id="t-mpak-analisa" transform="translate(880,437)">
<rect class="box" width="266" height="179"/><rect class="bar" x="1" y="1" width="264" height="13.5"/>
<text class="ti" x="3" y="12">MPAK_ANALISA</text><use href="#hdr"/>
<rect x="0" y="29" width="261" height="107.33" fill="url(#gp)"/>
<text class="t" y="39.7"><tspan x="20">NO_KOMITE</tspan><tspan x="124">char(10)</tspan></text><use href="#u" y="39.7"/>
<text class="t" y="55"><tspan x="20">NO_PENGAJUAN</tspan><tspan x="124">char(11)</tspan></text><use href="#c" y="55"/>
<text class="t" y="70.3"><tspan x="20">NO_DEBITUR</tspan><tspan x="124">varchar(10)</tspan></text><use href="#c" y="70.3"/>
<text class="t" y="85.7"><tspan x="20">NO_FAS</tspan><tspan x="124">varchar(11)</tspan></text><use href="#c" y="85.7"/>
<text class="t" y="101"><tspan x="20">ID_FILE</tspan><tspan x="124">char(19)</tspan></text><use href="#c" y="101"/>
<text class="t" y="116.3"><tspan x="20">ID_FILE_ORI</tspan><tspan x="124">char(19)</tspan></text><use href="#c" y="116.3"/>
<use href="#u" y="131.7"/>
</g>

<!-- MPAK_ANALISA_TTD -->
<g id="t-mpak-analisa-ttd" transform="translate(880,630)">
<rect class="box" width="266" height="181"/><rect class="bar" x="1" y="1" width="264" height="13.5"/>
<text class="ti" x="3" y="12">MPAK_ANALISA_TTD</text><use href="#hdr"/>
<rect x="0" y="29" width="261" height="107.33" fill="url(#gp)"/>
<text class="t" y="39.7"><tspan x="20">USERNAME</tspan><tspan x="124">varchar(50)</tspan></text><use href="#u" y="39.7"/><use href="#k" y="39.7"/>
<text class="t" y="55"><tspan x="20">USER_JENIS</tspan><tspan x="124">char(6)</tspan></text><use href="#c" y="55"/>
<text class="t" y="70.3"><tspan x="20">NO_KOMITE</tspan><tspan x="124">char(10)</tspan></text><use href="#u" y="70.3"/>
<text class="t" y="85.7"><tspan x="20">ID_FILE</tspan><tspan x="124">char(19)</tspan></text><use href="#u" y="85.7"/><use href="#k" y="85.7"/>
<text class="t" y="101"><tspan x="20">FLG_TTD</tspan><tspan x="124">char(1)</tspan></text><use href="#c" y="101"/>
<text class="t" y="116.3"><tspan x="20">TGL_TTD</tspan><tspan x="124">datetime</tspan></text><use href="#c" y="116.3"/>
<use href="#u" y="131.7"/>
</g>

<!-- MPAK_REVIEW -->
<g id="t-mpak-review" transform="translate(880,824)">
<rect class="box" width="266" height="152"/><rect class="bar" x="1" y="1" width="264" height="13.5"/>
<text class="ti" x="3" y="12">MPAK_REVIEW</text><use href="#hdr"/>
<rect x="0" y="29" width="261" height="92" fill="url(#gp)"/>
<text class="t" y="39.7"><tspan x="20">NO_KOMITE</tspan><tspan x="124">char(10)</tspan></text><use href="#u" y="39.7"/>
<text class="t" y="55"><tspan x="20">NO_PENGAJUAN</tspan><tspan x="124">char(11)</tspan></text><use href="#c" y="55"/>
<text class="t" y="70.3"><tspan x="20">NO_DEBITUR</tspan><tspan x="124">varchar(10)</tspan></text><use href="#c" y="70.3"/>
<text class="t" y="85.7"><tspan x="20">NO_FAS</tspan><tspan x="124">varchar(11)</tspan></text><use href="#c" y="85.7"/>
<text class="t" y="101"><tspan x="20">ID_FILE</tspan><tspan x="124">char(19)</tspan></text><use href="#c" y="101"/>
<use href="#u" y="116.3"/>
</g>

<!-- PRO_BERKAS -->
<g id="t-pro-berkas" transform="translate(1198,7)">
<rect class="box" width="266" height="180"/><rect class="bar" x="1" y="1" width="264" height="13.5"/>
<text class="ti" x="3" y="12">PRO_BERKAS</text><use href="#hdr"/>
<rect x="0" y="29" width="261" height="107.33" fill="url(#gp)"/>
<text class="t" y="39.7"><tspan x="20">NO_BERKAS</tspan><tspan x="124">int</tspan></text><use href="#u" y="39.7"/>
<text class="t" y="55"><tspan x="20">NO_DEB</tspan><tspan x="124">varchar(10)</tspan></text><use href="#c" y="55"/>
<text class="t" y="70.3"><tspan x="20">NO_PENGAJUAN</tspan><tspan x="124">char(11)</tspan></text><use href="#c" y="70.3"/>
<text class="t" y="85.7"><tspan x="20">NO_FAS</tspan><tspan x="124">varchar(11)</tspan></text><use href="#c" y="85.7"/>
<text class="t" y="101"><tspan x="20">STS_RVW_MR</tspan><tspan x="124">char(1)</tspan></text><use href="#c" y="101"/>
<text class="t" y="116.3"><tspan x="20">STS_RVW_PKB</tspan><tspan x="124">char(1)</tspan></text><use href="#c" y="116.3"/>
<use href="#u" y="131.7"/>
</g>

<!-- BERKAS_DETAIL -->
<g id="t-berkas-detail" transform="translate(1202,201)">
<rect class="box" width="266" height="215"/><rect class="bar" x="1" y="1" width="264" height="13.5"/>
<text class="ti" x="3" y="12">BERKAS_DETAIL</text><use href="#hdr"/>
<rect x="0" y="29" width="261" height="138" fill="url(#gp)"/>
<text class="t" y="39.7"><tspan x="20">ID_BERKAS_DETAIL</tspan><tspan x="124">int</tspan></text><use href="#u" y="39.7"/><use href="#k" y="39.7"/>
<text class="t" y="55"><tspan x="20">NO_BERKAS</tspan><tspan x="124">int</tspan></text><use href="#c" y="55"/>
<text class="t" y="70.3"><tspan x="20">JENIS_BERKAS</tspan><tspan x="124">char(3)</tspan></text><use href="#c" y="70.3"/>
<text class="t" y="85.7"><tspan x="20">ID_FILE</tspan><tspan x="124">char(19)</tspan></text><use href="#c" y="85.7"/>
<text class="t" y="101"><tspan x="20">NAMA_FILE</tspan><tspan x="124">varchar(500)</tspan></text><use href="#c" y="101"/>
<text class="t" y="116.3"><tspan x="20">NO_DEBITUR</tspan><tspan x="124">char(10)</tspan></text><use href="#c" y="116.3"/>
<text class="t" y="131.7"><tspan x="20">STS_REVIEW</tspan><tspan x="124">char(1)</tspan></text><use href="#c" y="131.7"/>
<text class="t" y="147"><tspan x="20">TGL_REVIEW</tspan><tspan x="124">datetime</tspan></text><use href="#c" y="147"/>
<use href="#u" y="162.3"/>
</g>

<!-- BERKAS_ROLE -->
<g id="t-berkas-role" transform="translate(1202,434)">
<rect class="box" width="266" height="214"/><rect class="bar" x="1" y="1" width="264" height="13.5"/>
<text class="ti" x="3" y="12">BERKAS_ROLE</text><use href="#hdr"/>
<rect x="0" y="29" width="261" height="138" fill="url(#gp)"/>
<text class="t" y="39.7"><tspan x="20">ID_ROLE</tspan><tspan x="124">int</tspan></text><use href="#u" y="39.7"/><use href="#k" y="39.7"/>
<text class="t" y="55"><tspan x="20">KD_SKIM</tspan><tspan x="124">varchar(5)</tspan></text><use href="#c" y="55"/>
<text class="t" y="70.3"><tspan x="20">STS_ROLE</tspan><tspan x="124">int</tspan></text><use href="#c" y="70.3"/>
<text class="t" y="85.7"><tspan x="20">KD_JNS_DEB</tspan><tspan x="124">int</tspan></text><use href="#c" y="85.7"/>
<text class="t" y="101"><tspan x="20">CREATED_AT</tspan><tspan x="124">datetime</tspan></text><use href="#c" y="101"/>
<text class="t" y="116.3"><tspan x="20">CREATED_BY</tspan><tspan x="124">varchar(50)</tspan></text><use href="#c" y="116.3"/>
<text class="t" y="131.7"><tspan x="20">UPDATED_AT</tspan><tspan x="124">datetime</tspan></text><use href="#c" y="131.7"/>
<text class="t" y="147"><tspan x="20">UPDATED_BY</tspan><tspan x="124">varchar(50)</tspan></text><use href="#c" y="147"/>
<use href="#u" y="162.3"/>
</g>

<!-- BERKAS_ROLE_DETAIL -->
<g id="t-berkas-role-detail" transform="translate(1202,682)">
<rect class="box" width="266" height="243"/><rect class="bar" x="1" y="1" width="264" height="13.5"/>
<text class="ti" x="3" y="12">BERKAS_ROLE_DETAIL</text><use href="#hdr"/>
<rect x="0" y="29" width="261" height="168.67" fill="url(#gp)"/>
<text class="t" y="39.7"><tspan x="20">ID_ROLE_DETAIL</tspan><tspan x="124">int</tspan></text><use href="#u" y="39.7"/>
<text class="t" y="55"><tspan x="20">JENIS_BERKAS</tspan><tspan x="124">char(3)</tspan></text><use href="#c" y="55"/>
<text class="t" y="70.3"><tspan x="20">ID_ROLE</tspan><tspan x="124">int</tspan></text><use href="#c" y="70.3"/>
<text class="t" y="85.7"><tspan x="20">STS_BERKAS</tspan><tspan x="124">char(1)</tspan></text><use href="#c" y="85.7"/>
<text class="t" y="101"><tspan x="20">KATEGORI_BERKAS</tspan><tspan x="124">int</tspan></text><use href="#c" y="101"/>
<text class="t" y="116.3"><tspan x="20">EXT_BERKAS</tspan><tspan x="124">char(1)</tspan></text><use href="#c" y="116.3"/>
<text class="t" y="131.7"><tspan x="20">CREATED_AT</tspan><tspan x="124">datetime</tspan></text><use href="#c" y="131.7"/>
<text class="t" y="147"><tspan x="20">CREATED_BY</tspan><tspan x="124">varchar(50)</tspan></text><use href="#c" y="147"/>
<text class="t" y="162.3"><tspan x="20">UPDATED_AT</tspan><tspan x="124">datetime</tspan></text><use href="#c" y="162.3"/>
<text class="t" y="177.7"><tspan x="20">UPDATED_BY</tspan><tspan x="124">varchar(50)</tspan></text><use href="#c" y="177.7"/>
<use href="#u" y="193"/>
</g>

<!-- PRO_AGUNAN (grid scrolled, with scroll bars) -->
<g id="t-pro-agunan" transform="translate(1499,12)">
<rect class="box" width="266" height="215"/><rect class="bar" x="1" y="1" width="264" height="13.5"/>
<text class="ti" x="3" y="12">PRO_AGUNAN</text><use href="#hdr0"/><text class="hl" x="212.5" y="25">Allow Nul</text>
<rect x="0" y="29" width="261" height="168.67" fill="url(#gp)"/>
<text class="t" y="39.7"><tspan x="20">NO_PENGAJUAN</tspan><tspan x="124">char(11)</tspan></text><use href="#u" y="39.7"/><use href="#k" y="39.7"/>
<text class="t" y="55"><tspan x="20">NO_FASILITAS</tspan><tspan x="124">varchar(11)</tspan></text><use href="#u" y="55"/><use href="#k" y="55"/>
<text class="t" y="70.3"><tspan x="20">NO_AGUNAN</tspan><tspan x="124">varchar(12)</tspan></text><use href="#u" y="70.3"/><use href="#k" y="70.3"/>
<text class="t" y="85.7"><tspan x="20">NO_DEBITUR</tspan><tspan x="124">char(10)</tspan></text><use href="#u" y="85.7"/><use href="#k" y="85.7"/>
<text class="t" y="101"><tspan x="20">NILAI_PASAR</tspan><tspan x="124">numeric(18, 0)</tspan></text><use href="#c" y="101"/>
<text class="t" y="116.3"><tspan x="20">NILAI_LIKUIDASI</tspan><tspan x="124">numeric(18, 0)</tspan></text><use href="#c" y="116.3"/>
<text class="t" y="131.7"><tspan x="20">NILAI_PENGIKATAN</tspan><tspan x="124">numeric(18, 0)</tspan></text><use href="#c" y="131.7"/>
<text class="t" y="147"><tspan x="20">JNS_PENGIKATAN</tspan><tspan x="124">int</tspan></text><use href="#c" y="147"/>
<text class="t" y="162.3"><tspan x="20">TGL_PENGIKATAN</tspan><tspan x="124">datetime</tspan></text><use href="#c" y="162.3"/>
<text class="t" y="177.7"><tspan x="20">ID_FILE</tspan><tspan x="124">char(19)</tspan></text><use href="#c" y="177.7"/>
<use href="#u" y="193"/>
<!-- vertical scroll bar -->
<rect class="sb" x="247" y="14.5" width="17" height="187"/>
<rect class="th" x="249.5" y="31.5" width="12" height="134.5"/>
<path class="ar" d="M252.5 24.5L255.5 21.5L258.5 24.5M252.5 192L255.5 195L258.5 192"/>
<!-- horizontal scroll bar -->
<rect class="sb" x="1" y="201.5" width="263" height="12.5"/>
<rect class="th" x="19" y="203.5" width="199" height="8.5"/>
<path class="ar" d="M11 204.5L8 207.75L11 211M240 204.5L243 207.75L240 211"/>
</g>

<!-- MST_AGUNAN -->
<g id="t-mst-agunan" transform="translate(1499,236)">
<rect class="box" width="266" height="178"/><rect class="bar" x="1" y="1" width="264" height="13.5"/>
<text class="ti" x="3" y="12">MST_AGUNAN</text><use href="#hdr"/>
<rect x="0" y="29" width="261" height="107.33" fill="url(#gp)"/>
<text class="t" y="39.7"><tspan x="20">NO_AGUNAN</tspan><tspan x="124">varchar(8)</tspan></text><use href="#c" y="39.7"/>
<text class="t" y="55"><tspan x="20">JNS_AGUNAN</tspan><tspan x="124">int</tspan></text><use href="#c" y="55"/>
<text class="t" y="70.3"><tspan x="20">CREATED_AT</tspan><tspan x="124">datetime</tspan></text><use href="#c" y="70.3"/>
<text class="t" y="85.7"><tspan x="20">CREATED_BY</tspan><tspan x="124">varchar(100)</tspan></text><use href="#c" y="85.7"/>
<text class="t" y="101"><tspan x="20">UPDATED_AT</tspan><tspan x="124">datetime</tspan></text><use href="#c" y="101"/>
<text class="t" y="116.3"><tspan x="20">UPDATED_BY</tspan><tspan x="124">varchar(100)</tspan></text><use href="#c" y="116.3"/>
<use href="#u" y="131.7"/>
</g>

<!-- AGUNAN_TERMIN (narrower grid) -->
<g id="t-agunan-termin" transform="translate(1498,430)">
<rect class="box" width="262" height="183"/><rect class="bar" x="1" y="1" width="260" height="13.5"/>
<text class="ti" x="3" y="12">AGUNAN_TERMIN</text><use href="#hdr2"/>
<rect x="0" y="29" width="256" height="107.33" fill="url(#gp2)"/>
<text class="t" y="39.7"><tspan x="20">NO_AGUNAN</tspan><tspan x="120">varchar(8)</tspan></text><use href="#u" x="-3.5" y="39.7"/><use href="#k" x="-2" y="39.7"/>
<text class="t" y="55"><tspan x="20">KET_TERMIN</tspan><tspan x="120">varchar(MAX)</tspan></text><use href="#c" x="-3.5" y="55"/>
<text class="t" y="70.3"><tspan x="20">PEKERJAAN</tspan><tspan x="120">varchar(MAX)</tspan></text><use href="#c" x="-3.5" y="70.3"/>
<text class="t" y="85.7"><tspan x="20">DASAR_PEKERJAAN</tspan><tspan x="120">varchar(MAX)</tspan></text><use href="#c" x="-3.5" y="85.7"/>
<text class="t" y="101"><tspan x="20">PEMILIK_PROYEK</tspan><tspan x="120">varchar(500)</tspan></text><use href="#c" x="-3.5" y="101"/>
<text class="t" y="116.3"><tspan x="20">NILAI_PROYEK_TERMIN</tspan><tspan x="120">numeric(18, 0)</tspan></text><use href="#c" x="-3.5" y="116.3"/>
<use href="#u" x="-3.5" y="131.7"/>
</g>

<!-- AGUNAN_BERGERAK -->
<g id="t-agunan-bergerak" transform="translate(1499,624)">
<rect class="box" width="266" height="428"/><rect class="bar" x="1" y="1" width="264" height="13.5"/>
<text class="ti" x="3" y="12">AGUNAN_BERGERAK</text><use href="#hdr"/>
<rect x="0" y="29" width="261" height="260.67" fill="url(#gp)"/>
<text class="t" y="39.7"><tspan x="20">NO_AGUNAN</tspan><tspan x="124">varchar(12)</tspan></text><use href="#u" y="39.7"/><use href="#k" y="39.7"/>
<text class="t" y="55"><tspan x="20">JENIS</tspan><tspan x="124">char(1)</tspan></text><use href="#c" y="55"/>
<text class="t" y="70.3"><tspan x="20">KET_AGUNAN</tspan><tspan x="124">varchar(500)</tspan></text><use href="#c" y="70.3"/>
<text class="t" y="85.7"><tspan x="20">MERK_TIPE</tspan><tspan x="124">varchar(500)</tspan></text><use href="#c" y="85.7"/>
<text class="t" y="101"><tspan x="20">TH_PEMBUATAN</tspan><tspan x="124">char(4)</tspan></text><use href="#c" y="101"/>
<text class="t" y="116.3"><tspan x="20">NO_POLISI</tspan><tspan x="124">varchar(30)</tspan></text><use href="#c" y="116.3"/>
<text class="t" y="131.7"><tspan x="20">NO_RANGKA</tspan><tspan x="124">varchar(500)</tspan></text><use href="#c" y="131.7"/>
<text class="t" y="147"><tspan x="20">NO_MESIN</tspan><tspan x="124">varchar(500)</tspan></text><use href="#c" y="147"/>
<text class="t" y="162.3"><tspan x="20">WARNA</tspan><tspan x="124">varchar(30)</tspan></text><use href="#c" y="162.3"/>
<text class="t" y="177.7"><tspan x="20">KONDISI</tspan><tspan x="124">varchar(500)</tspan></text><use href="#c" y="177.7"/>
<text class="t" y="193"><tspan x="20">ATAS_NAMA</tspan><tspan x="124">varchar(100)</tspan></text><use href="#c" y="193"/>
<text class="t" y="208.3"><tspan x="20">NO_BPKB</tspan><tspan x="124">varchar(100)</tspan></text><use href="#c" y="208.3"/>
<text class="t" y="223.7"><tspan x="20">BARANG_INVENTARIS</tspan><tspan x="124">varchar(MAX)</tspan></text><use href="#c" y="223.7"/>
<text class="t" y="239"><tspan x="20">NILAI_INVENTARIS</tspan><tspan x="124">numeric(18, 0)</tspan></text><use href="#c" y="239"/>
<text class="t" y="254.3"><tspan x="20">BARANG_LAINNYA</tspan><tspan x="124">varchar(MAX)</tspan></text><use href="#c" y="254.3"/>
<text class="t" y="269.7"><tspan x="20">NILAI_LAINNYA</tspan><tspan x="124">numeric(18, 0)</tspan></text><use href="#c" y="269.7"/>
<use href="#u" y="285"/>
</g>

<!-- AGUNAN_TANAH -->
<g id="t-agunan-tanah" transform="translate(1787,12)">
<rect class="box" width="267" height="236"/><rect class="bar" x="1" y="1" width="265" height="13.5"/>
<text class="ti" x="3" y="12">AGUNAN_TANAH</text><use href="#hdr"/>
<rect x="0" y="29" width="261" height="168.67" fill="url(#gp)"/>
<text class="t" y="39.7"><tspan x="20">NO_AGUNAN</tspan><tspan x="124">varchar(12)</tspan></text><use href="#u" y="39.7"/><use href="#k" y="39.7"/>
<text class="t" y="55"><tspan x="20">JNS_PENILAIAN</tspan><tspan x="124">char(1)</tspan></text><use href="#c" y="55"/>
<text class="t" y="70.3"><tspan x="20">BUKTI_KEPEMILIKAN</tspan><tspan x="124">varchar(500)</tspan></text><use href="#c" y="70.3"/>
<text class="t" y="85.7"><tspan x="20">LUAS_TANAH</tspan><tspan x="124">numeric(18, 0)</tspan></text><use href="#c" y="85.7"/>
<text class="t" y="101"><tspan x="20">LUAS_BANGUNAN</tspan><tspan x="124">numeric(18, 0)</tspan></text><use href="#c" y="101"/>
<text class="t" y="116.3"><tspan x="20">LOKASI_TANAH</tspan><tspan x="124">varchar(500)</tspan></text><use href="#c" y="116.3"/>
<text class="t" y="131.7"><tspan x="20">LOKASI_MAPS</tspan><tspan x="124">varchar(500)</tspan></text><use href="#c" y="131.7"/>
<text class="t" y="147"><tspan x="20">ATAS_NAMA</tspan><tspan x="124">varchar(500)</tspan></text><use href="#c" y="147"/>
<text class="t" y="162.3"><tspan x="20">HT_KE</tspan><tspan x="124">varchar(100)</tspan></text><use href="#c" y="162.3"/>
<text class="t" y="177.7"><tspan x="20">SUGS</tspan><tspan x="124">varchar(500)</tspan></text><use href="#c" y="177.7"/>
<use href="#u" y="193"/>
</g>

<!-- AGUNAN_KIOS -->
<g id="t-agunan-kios" transform="translate(1791,266)">
<rect class="box" width="267" height="255"/><rect class="bar" x="1" y="1" width="265" height="13.5"/>
<text class="ti" x="3" y="12">AGUNAN_KIOS</text><use href="#hdr"/>
<rect x="0" y="29" width="261" height="199.33" fill="url(#gp)"/>
<text class="t" y="39.7"><tspan x="20">NO_AGUNAN</tspan><tspan x="124">varchar(8)</tspan></text><use href="#u" y="39.7"/><use href="#k" y="39.7"/>
<text class="t" y="55"><tspan x="20">JNS_KIOS</tspan><tspan x="124">char(1)</tspan></text><use href="#c" y="55"/>
<text class="t" y="70.3"><tspan x="20">NAMA_PASAR</tspan><tspan x="124">varchar(500)</tspan></text><use href="#c" y="70.3"/>
<text class="t" y="85.7"><tspan x="20">ALAMAT_PASAR</tspan><tspan x="124">varchar(500)</tspan></text><use href="#c" y="85.7"/>
<text class="t" y="101"><tspan x="20">NO_BUKTI</tspan><tspan x="124">varchar(100)</tspan></text><use href="#c" y="101"/>
<text class="t" y="116.3"><tspan x="20">NAMA_PEMILIK</tspan><tspan x="124">varchar(500)</tspan></text><use href="#c" y="116.3"/>
<text class="t" y="131.7"><tspan x="20">TGL_AKHIR_BERLAKU</tspan><tspan x="124">datetime</tspan></text><use href="#c" y="131.7"/>
<text class="t" y="147"><tspan x="20">JENIS_DAGANG</tspan><tspan x="124">varchar(500)</tspan></text><use href="#c" y="147"/>
<text class="t" y="162.3"><tspan x="20">JAM_BUKA</tspan><tspan x="124">time(7)</tspan></text><use href="#c" y="162.3"/>
<text class="t" y="177.7"><tspan x="20">LUAS</tspan><tspan x="124">varchar(500)</tspan></text><use href="#c" y="177.7"/>
<text class="t" y="193"><tspan x="20">LOKASI_KIOS</tspan><tspan x="124">varchar(100)</tspan></text><use href="#c" y="193"/>
<text class="t" y="208.3"><tspan x="20">TGL_PENILAIAN</tspan><tspan x="124">datetime</tspan></text><use href="#c" y="208.3"/>
<use href="#u" y="223.7"/>
</g>

<!-- AGUNAN_TUNAI -->
<g id="t-agunan-tunai" transform="translate(1791,539)">
<rect class="box" width="267" height="219"/><rect class="bar" x="1" y="1" width="265" height="13.5"/>
<text class="ti" x="3" y="12">AGUNAN_TUNAI</text><use href="#hdr"/>
<rect x="0" y="29" width="261" height="168.67" fill="url(#gp)"/>
<text class="t" y="39.7"><tspan x="20">NO_AGUNAN</tspan><tspan x="124">varchar(8)</tspan></text><use href="#u" y="39.7"/><use href="#k" y="39.7"/>
<text class="t" y="55"><tspan x="20">JNS_TUNAI</tspan><tspan x="124">char(1)</tspan></text><use href="#c" y="55"/>
<text class="t" y="70.3"><tspan x="20">KET_TUNAI</tspan><tspan x="124">varchar(500)</tspan></text><use href="#c" y="70.3"/>
<text class="t" y="85.7"><tspan x="20">NO_REKENING</tspan><tspan x="124">varchar(30)</tspan></text><use href="#c" y="85.7"/>
<text class="t" y="101"><tspan x="20">NOMINAL</tspan><tspan x="124">numeric(18, 0)</tspan></text><use href="#c" y="101"/>
<text class="t" y="116.3"><tspan x="20">TGL_NOMINAL</tspan><tspan x="124">datetime</tspan></text><use href="#c" y="116.3"/>
<text class="t" y="131.7"><tspan x="20">ATAS_NAMA</tspan><tspan x="124">varchar(100)</tspan></text><use href="#c" y="131.7"/>
<text class="t" y="147"><tspan x="20">NO_BUKTI</tspan><tspan x="124">varchar(100)</tspan></text><use href="#c" y="147"/>
<text class="t" y="162.3"><tspan x="20">BUNGA</tspan><tspan x="124">varchar(30)</tspan></text><use href="#c" y="162.3"/>
<text class="t" y="177.7"><tspan x="20">ALAMAT</tspan><tspan x="124">varchar(500)</tspan></text><use href="#c" y="177.7"/>
<use href="#u" y="193"/>
</g>

<!-- AGUNAN_LAINNYA -->
<g id="t-agunan-lainnya" transform="translate(1791,776)">
<rect class="box" width="267" height="124"/><rect class="bar" x="1" y="1" width="265" height="13.5"/>
<text class="ti" x="3" y="12">AGUNAN_LAINNYA</text><use href="#hdr"/>
<rect x="0" y="29" width="261" height="61.33" fill="url(#gp)"/>
<text class="t" y="39.7"><tspan x="20">NO_AGUNAN</tspan><tspan x="124">varchar(12)</tspan></text><use href="#u" y="39.7"/><use href="#k" y="39.7"/>
<text class="t" y="55"><tspan x="20">JENIS</tspan><tspan x="124">char(1)</tspan></text><use href="#c" y="55"/>
<text class="t" y="70.3"><tspan x="20">KETERANGAN</tspan><tspan x="124">varchar(MAX)</tspan></text><use href="#c" y="70.3"/>
<use href="#u" y="85.7"/>
</g>

<!-- PRO_KOMITE -->
<g id="t-pro-komite" transform="translate(2118,12)">
<rect class="box" width="266" height="178"/><rect class="bar" x="1" y="1" width="264" height="13.5"/>
<text class="ti" x="3" y="12">PRO_KOMITE</text><use href="#hdr"/>
<rect x="0" y="29" width="261" height="107.33" fill="url(#gp)"/>
<text class="t" y="39.7"><tspan x="20">NO_KOMITE</tspan><tspan x="124">char(10)</tspan></text><use href="#u" y="39.7"/><use href="#k" y="39.7"/>
<text class="t" y="55"><tspan x="20">NO_PENGAJUAN</tspan><tspan x="124">char(11)</tspan></text><use href="#c" y="55"/>
<text class="t" y="70.3"><tspan x="20">FLG_REVIEW</tspan><tspan x="124">char(1)</tspan></text><use href="#c" y="70.3"/>
<text class="t" y="85.7"><tspan x="20">FLG_PUTUSAN</tspan><tspan x="124">char(1)</tspan></text><use href="#c" y="85.7"/>
<text class="t" y="101"><tspan x="20">FLG_JAMINAN</tspan><tspan x="124">char(1)</tspan></text><use href="#c" y="101"/>
<text class="t" y="116.3"><tspan x="20">FLG_PUSAT</tspan><tspan x="124">char(1)</tspan></text><use href="#c" y="116.3"/>
<use href="#u" y="131.7"/>
</g>

<!-- KOMITE_PESERTA -->
<g id="t-komite-peserta" transform="translate(2118,209)">
<rect class="box" width="266" height="214"/><rect class="bar" x="1" y="1" width="264" height="13.5"/>
<text class="ti" x="3" y="12">KOMITE_PESERTA</text><use href="#hdr"/>
<rect x="0" y="29" width="261" height="138" fill="url(#gp)"/>
<text class="t" y="39.7"><tspan x="20">NO_KOMITE</tspan><tspan x="124">char(10)</tspan></text><use href="#c" y="39.7"/>
<text class="t" y="55"><tspan x="20">USER_KOMITE</tspan><tspan x="124">varchar(50)</tspan></text><use href="#c" y="55"/>
<text class="t" y="70.3"><tspan x="20">USER_JENIS</tspan><tspan x="124">varchar(30)</tspan></text><use href="#c" y="70.3"/>
<text class="t" y="85.7"><tspan x="20">TGL_KOMITE</tspan><tspan x="124">datetime</tspan></text><use href="#c" y="85.7"/>
<text class="t" y="101"><tspan x="20">FLG_SETUJU</tspan><tspan x="124">char(1)</tspan></text><use href="#c" y="101"/>
<text class="t" y="116.3"><tspan x="20">HASIL_KOMITE</tspan><tspan x="124">char(1)</tspan></text><use href="#c" y="116.3"/>
<text class="t" y="131.7"><tspan x="20">TANGGAPAN_KOMITE</tspan><tspan x="124">varchar(8000)</tspan></text><use href="#c" y="131.7"/>
<text class="t" y="147"><tspan x="20">TANGGAPAN_KELENGKA...</tspan><tspan x="124">varchar(8000)</tspan></text><use href="#c" y="147"/>
<use href="#u" y="162.3"/>
</g>

<!-- KOMITE_MPKK -->
<g id="t-komite-mpkk" transform="translate(2122,437)">
<rect class="box" width="266" height="669"/><rect class="bar" x="1" y="1" width="264" height="13.5"/>
<text class="ti" x="3" y="12">KOMITE_MPKK</text><use href="#hdr"/>
<rect x="0" y="29" width="261" height="521.33" fill="url(#gp)"/>
<text class="t" y="39.7"><tspan x="20">NO_KOMITE</tspan><tspan x="124">char(10)</tspan></text><use href="#u" y="39.7"/><use href="#k" y="39.7"/>
<text class="t" y="55"><tspan x="20">NO_PENGAJUAN</tspan><tspan x="124">char(11)</tspan></text><use href="#c" y="55"/>
<text class="t" y="70.3"><tspan x="20">NO_DEBITUR</tspan><tspan x="124">varchar(10)</tspan></text><use href="#c" y="70.3"/>
<text class="t" y="85.7"><tspan x="20">NO_FAS</tspan><tspan x="124">varchar(11)</tspan></text><use href="#c" y="85.7"/>
<text class="t" y="101"><tspan x="20">TGL_MPKK</tspan><tspan x="124">datetime</tspan></text><use href="#c" y="101"/>
<text class="t" y="116.3"><tspan x="20">JNS_PENGAJUAN_KREDIT</tspan><tspan x="124">char(1)</tspan></text><use href="#c" y="116.3"/>
<text class="t" y="131.7"><tspan x="20">DEBITUR_ANGGOTA</tspan><tspan x="124">varchar(MAX)</tspan></text><use href="#c" y="131.7"/>
<text class="t" y="147"><tspan x="20">PEMILIK_JAMINAN</tspan><tspan x="124">varchar(MAX)</tspan></text><use href="#c" y="147"/>
<text class="t" y="162.3"><tspan x="20">KEPERLUAN_KREDIT</tspan><tspan x="124">varchar(MAX)</tspan></text><use href="#c" y="162.3"/>
<text class="t" y="177.7"><tspan x="20">SIFAT_KREDIT</tspan><tspan x="124">char(1)</tspan></text><use href="#c" y="177.7"/>
<text class="t" y="193"><tspan x="20">JENIS_KREDIT</tspan><tspan x="124">varchar(MAX)</tspan></text><use href="#c" y="193"/>
<text class="t" y="208.3"><tspan x="20">PEMBAYARAN_KEMBALI</tspan><tspan x="124">varchar(MAX)</tspan></text><use href="#c" y="208.3"/>
<text class="t" y="223.7"><tspan x="20">PLAFON_LAMA</tspan><tspan x="124">money</tspan></text><use href="#c" y="223.7"/>
<text class="t" y="239"><tspan x="20">PLAFON_BARU</tspan><tspan x="124">money</tspan></text><use href="#c" y="239"/>
<text class="t" y="254.3"><tspan x="20">JNK_WKT_LAMA</tspan><tspan x="124">varchar(500)</tspan></text><use href="#c" y="254.3"/>
<text class="t" y="269.7"><tspan x="20">JNK_WKT_BARU</tspan><tspan x="124">varchar(500)</tspan></text><use href="#c" y="269.7"/>
<text class="t" y="285"><tspan x="20">BUNGA_KREDIT_LAMA</tspan><tspan x="124">varchar(MAX)</tspan></text><use href="#c" y="285"/>
<text class="t" y="300.3"><tspan x="20">BUNGA_KREDIT_BARU</tspan><tspan x="124">varchar(MAX)</tspan></text><use href="#c" y="300.3"/>
<text class="t" y="315.7"><tspan x="20">DENDA</tspan><tspan x="124">varchar(MAX)</tspan></text><use href="#c" y="315.7"/>
<text class="t" y="331"><tspan x="20">DENDA_LUNAS_DIPERCE...</tspan><tspan x="124">varchar(MAX)</tspan></text><use href="#c" y="331"/>
<text class="t" y="346.3"><tspan x="20">PROVISI_KREDIT</tspan><tspan x="124">varchar(MAX)</tspan></text><use href="#c" y="346.3"/>
<text class="t" y="361.7"><tspan x="20">BIAYA_ADMINISTRASI</tspan><tspan x="124">varchar(MAX)</tspan></text><use href="#c" y="361.7"/>
<text class="t" y="377"><tspan x="20">MATERAI</tspan><tspan x="124">varchar(MAX)</tspan></text><use href="#c" y="377"/>
<text class="t" y="392.3"><tspan x="20">SYARAT_TTD_ADENDUM...</tspan><tspan x="124">varchar(MAX)</tspan></text><use href="#c" y="392.3"/>
<text class="t" y="407.7"><tspan x="20">SYARAT_PENARIKAN_KR...</tspan><tspan x="124">varchar(MAX)</tspan></text><use href="#c" y="407.7"/>
<text class="t" y="423"><tspan x="20">AFFIRMATIVE_COVERNA...</tspan><tspan x="124">varchar(MAX)</tspan></text><use href="#c" y="423"/>
<text class="t" y="438.3"><tspan x="20">NEGATIVE_COVERNANT</tspan><tspan x="124">varchar(MAX)</tspan></text><use href="#c" y="438.3"/>
<text class="t" y="453.7"><tspan x="20">SYARAT_LAINNYA</tspan><tspan x="124">varchar(MAX)</tspan></text><use href="#c" y="453.7"/>
<text class="t" y="469"><tspan x="20">HAL_LAINNYA</tspan><tspan x="124">varchar(MAX)</tspan></text><use href="#c" y="469"/>
<text class="t" y="484.3"><tspan x="20">JENIS_ADENDUM</tspan><tspan x="124">int</tspan></text><use href="#c" y="484.3"/>
<text class="t" y="499.7"><tspan x="20">ADENDUM_KE</tspan><tspan x="124">int</tspan></text><use href="#c" y="499.7"/>
<text class="t" y="515"><tspan x="20">CATATAN_USULAN</tspan><tspan x="124">varchar(MAX)</tspan></text><use href="#c" y="515"/>
<text class="t" y="530.3"><tspan x="20">JAMINAN_SEMULA</tspan><tspan x="124">varchar(MAX)</tspan></text><use href="#c" y="530.3"/>
<use href="#u" y="545.7"/>
</g>

<!-- relationship: BERKAS_ROLE (key end) to BERKAS_ROLE_DETAIL (many end) -->
<g id="connectors">
  <path d="M1207 664V673" stroke="#505050" stroke-width="1" fill="none"/>
  <circle cx="1207" cy="653.5" r="2.6" fill="#f3d11a" stroke="#8c7600" stroke-width=".8"/>
  <path d="M1206 656H1208V664H1206Z" fill="#f3d11a" stroke="#8c7600" stroke-width=".6"/>
  <path d="M1208 660.5H1209.5M1208 662.5H1209.5" stroke="#8c7600" stroke-width=".8"/>
  <circle cx="1207" cy="675" r="1.9" fill="none" stroke="#505050" stroke-width=".9"/>
  <circle cx="1207" cy="678.8" r="1.9" fill="none" stroke="#505050" stroke-width=".9"/>
</g>
</svg>
